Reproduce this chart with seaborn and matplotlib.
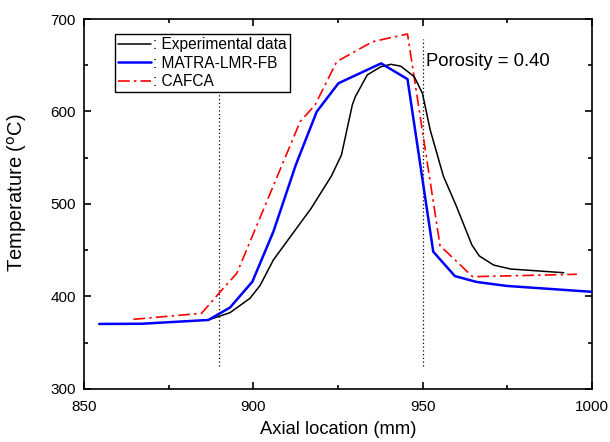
import numpy as np
import pandas as pd
import matplotlib
matplotlib.use("Agg")
import matplotlib.pyplot as plt
import seaborn as sns
from matplotlib.ticker import MultipleLocator

# Dati
exp_x = [886.7, 893.1, 899.0, 902.0, 905.9, 911.0, 917.0, 923.0, 926.0, 929.2, 930.1,
         933.6, 937.6, 940.6, 943.5, 947.5, 949.9, 952.2, 956.1, 960.0, 964.5, 966.7,
         970.9, 975.9, 991.6]
exp_t = [374.6, 382.5, 398.0, 412.0, 439.5, 465.0, 495.0, 530.0, 553.0, 607.0, 616.0,
         639.5, 648.4, 651.0, 649.0, 637.6, 619.7, 580.0, 530.0, 497.0, 455.7, 443.8,
         434.0, 429.7, 425.7]

matra_x = [854.5, 867.0, 886.7, 893.1, 899.7, 905.9, 912.5, 918.7, 925.1, 937.7, 945.5,
           953.1, 959.5, 965.9, 974.8, 1000.0]
matra_t = [370.3, 370.5, 374.6, 388.0, 416.0, 470.0, 542.0, 599.8, 630.5, 652.0, 635.0,
           448.4, 422.0, 415.7, 411.4, 405.0]

cafca_x = [864.6, 884.7, 890.2, 895.1, 913.8, 918.2, 924.6, 935.2, 945.5, 955.1, 964.7, 995.5]
cafca_t = [375.3, 381.8, 405.0, 425.0, 589.0, 607.0, 653.9, 675.5, 683.8, 455.0, 421.4, 424.0]

porosity_lines = [890, 950]

sns.set_style("ticks")
plt.rcParams['font.family'] = ['Liberation Sans', 'DejaVu Sans']
plt.rcParams['text.color'] = 'black'
plt.rcParams['axes.labelcolor'] = 'black'
plt.rcParams['xtick.color'] = 'black'
plt.rcParams['ytick.color'] = 'black'
plt.rcParams['axes.edgecolor'] = 'black'

fig = plt.figure(figsize=(6.1, 4.42), dpi=100)
ax = fig.add_axes([0.1377, 0.12, 0.833, 0.837])

# linee verticali tratteggiate
for xv in porosity_lines:
    ax.plot([xv, xv], [325, 678], color='black', linestyle=(0, (1, 2)), linewidth=0.9, zorder=1)

sns.lineplot(x=exp_x, y=exp_t, ax=ax, color='black', linewidth=1.1, sort=False,
             estimator=None, label=': Experimental data', zorder=3)
sns.lineplot(x=matra_x, y=matra_t, ax=ax, color='#0000ff', linewidth=1.8, sort=False,
             estimator=None, label=': MATRA-LMR-FB', zorder=4)
sns.lineplot(x=cafca_x, y=cafca_t, ax=ax, color='#ff0000', linewidth=1.2, sort=False,
             estimator=None, label=': CAFCA', zorder=2)
ax.lines[-1].set_dashes([7, 2.5, 1.5, 2.5])

ax.set_xlim(850, 1000)
ax.set_ylim(300, 700)
ax.xaxis.set_major_locator(MultipleLocator(50))
ax.xaxis.set_minor_locator(MultipleLocator(25))
ax.yaxis.set_major_locator(MultipleLocator(100))
ax.yaxis.set_minor_locator(MultipleLocator(50))
ax.tick_params(which='both', direction='in', top=True, right=True, labelsize=11, width=1.2)
ax.tick_params(which='major', length=5)
ax.tick_params(which='minor', length=3)
ax.tick_params(axis='x', which='major', pad=8)
ax.tick_params(axis='y', which='major', pad=6)
for s in ax.spines.values():
    s.set_linewidth(1.2)
    s.set_visible(True)

ax.set_xlabel('Axial location (mm)', fontsize=13.2, labelpad=5)
ax.set_ylabel('Temperature ($^{\\rm o}$C)', fontsize=14.5)
ax.yaxis.set_label_coords(-0.108, 0.53)

ax.text(951, 654, 'Porosity = 0.40', fontsize=13.3, va='center', ha='left')

leg = ax.legend(loc='upper left', bbox_to_anchor=(0.061, 0.959), fontsize=11.2,
                frameon=True, fancybox=False, handlelength=2.1, handletextpad=0.15,
                borderpad=0.2, labelspacing=0.22, borderaxespad=0)
leg.get_frame().set_edgecolor('black')
leg.get_frame().set_linewidth(1.0)
leg.get_frame().set_alpha(1)
leg.set_zorder(10)

fig.savefig('out.png', dpi=100)
